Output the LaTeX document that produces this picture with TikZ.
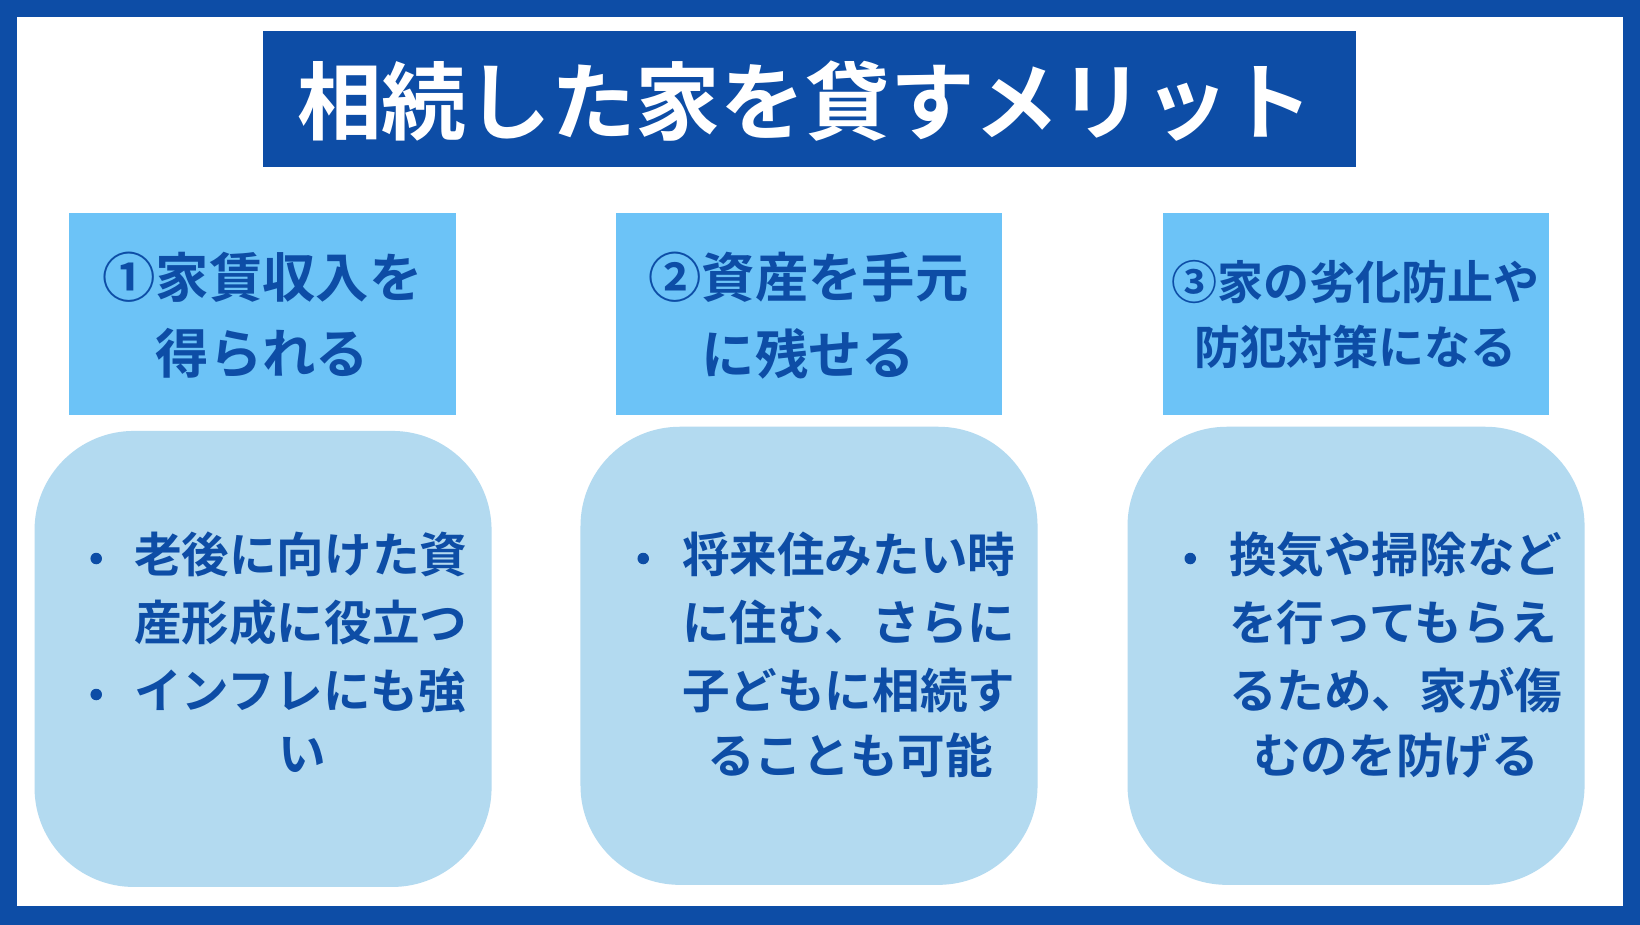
\documentclass[tikz,border=0pt]{standalone}
\usepackage{fontspec}
\newfontfamily\cjk{Noto Sans CJK JP Bold}
\definecolor{dblue}{HTML}{0D4DA6}
\definecolor{hblue}{HTML}{6CC3F7}
\definecolor{pblue}{HTML}{B3DAF0}
\begin{document}
\begin{tikzpicture}[x=1pt,y=-1pt,
  ht/.style={font=\cjk\fontsize{51}{51}\selectfont,text=dblue,inner sep=0pt},
  ht3/.style={font=\cjk\fontsize{44}{44}\selectfont,text=dblue,inner sep=0pt},
  bt/.style={font=\cjk\fontsize{45.5}{45}\selectfont,text=dblue,inner sep=0pt,anchor=west},
  bul/.style={circle,fill=dblue,inner sep=0pt,minimum size=11pt}]
\fill[dblue] (0,0) rectangle (1568,884);
\fill[white] (16,16) rectangle (1552,866);
\useasboundingbox (0,0) rectangle (1568,884);
\node[fill=dblue,minimum width=1045pt,minimum height=130pt,inner sep=0pt] (title) at (773.5,95) {};
\node[font=\cjk\fontsize{81}{81}\selectfont,text=white,inner sep=0pt] (tt) at (770,97) {相続した家を貸すメリット};
\fill[hblue] (66,204) rectangle (436,397);
\fill[hblue] (589,204) rectangle (958,397);
\fill[hblue] (1112,204) rectangle (1481,397);
\node[ht] (h1a) at (251,265) {①家賃収入を};
\node[ht] (h1b) at (251,338) {得られる};
\node[ht] (h2a) at (773,265) {②資産を手元};
\node[ht] (h2b) at (773,338) {に残せる};
\node[ht3] (h3a) at (1296,270) {③家の劣化防止や};
\node[ht3] (h3b) at (1296,332) {防犯対策になる};
\fill[pblue,rounded corners=95pt] (33,412) rectangle (470,848);
\fill[pblue,rounded corners=95pt] (555,408) rectangle (992,846);
\fill[pblue,rounded corners=95pt] (1078,408) rectangle (1515,846);
\node[bul] (b1) at (92,534) {};
\node[bt] (l1a) at (128,530) {老後に向けた資};
\node[bt] (l1b) at (128,595) {産形成に役立つ};
\node[bul] (b2) at (92,664) {};
\node[bt] (l1c) at (128,660) {インフレにも強};
\node[bt] (l1d) at (266,722) {い};
\node[bul] (b3) at (615,534) {};
\node[bt] (l2a) at (652,530) {将来住みたい時};
\node[bt] (l2b) at (652,595) {に住む、さらに};
\node[bt] (l2c) at (652,660) {子どもに相続す};
\node[bt] (l2d) at (676,722) {ることも可能};
\node[bul] (b4) at (1138,534) {};
\node[bt] (l3a) at (1175,530) {換気や掃除など};
\node[bt] (l3b) at (1175,595) {を行ってもらえ};
\node[bt] (l3c) at (1175,660) {るため、家が傷};
\node[bt] (l3d) at (1198,722) {むのを防げる};
\end{tikzpicture}
\end{document}
